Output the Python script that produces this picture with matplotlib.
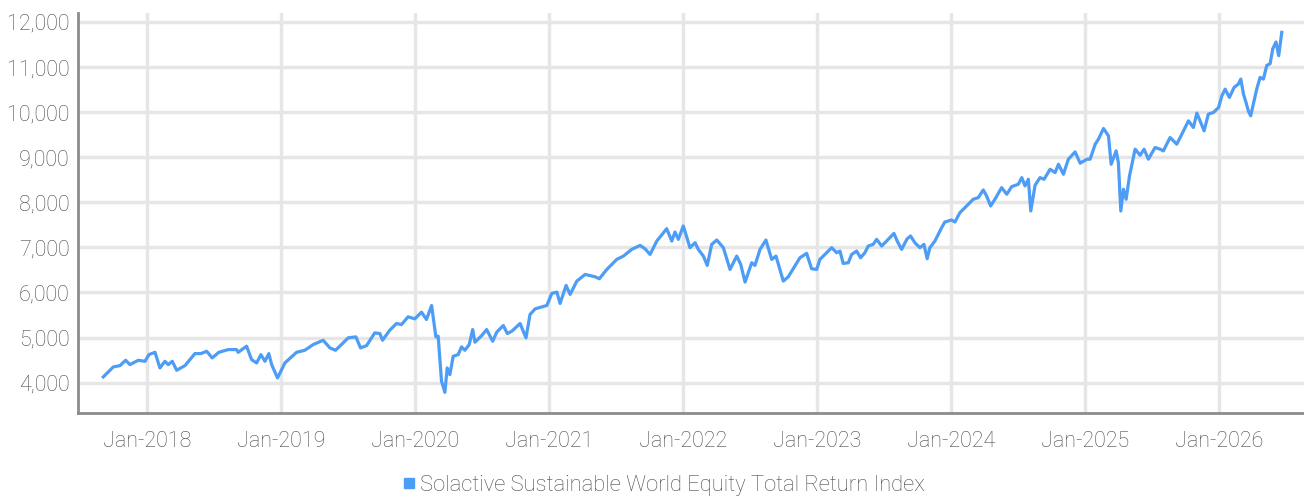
import numpy as np
import pandas as pd
import matplotlib
matplotlib.use("Agg")
import matplotlib.pyplot as plt
import matplotlib.dates as mdates
from matplotlib.lines import Line2D

# -------------------------------------------------------------------------
# DATA  (decimal year -> index level)
# -------------------------------------------------------------------------
years = [
    2017.674, 2017.749, 2017.799, 2017.841, 2017.873, 2017.935, 2017.985, 2018.015,
    2018.060, 2018.097, 2018.134, 2018.159, 2018.189, 2018.222, 2018.284, 2018.358,
    2018.403, 2018.446, 2018.487, 2018.537, 2018.607, 2018.669, 2018.681, 2018.744,
    2018.781, 2018.819, 2018.851, 2018.881, 2018.910, 2018.931, 2018.975, 2019.030,
    2019.117, 2019.179, 2019.241, 2019.316, 2019.366, 2019.408, 2019.465, 2019.502,
    2019.560, 2019.595, 2019.640, 2019.701, 2019.739, 2019.759, 2019.813, 2019.863,
    2019.901, 2019.950, 2020.000, 2020.050, 2020.087, 2020.125, 2020.157, 2020.174,
    2020.199, 2020.224, 2020.241, 2020.261, 2020.286, 2020.323, 2020.348, 2020.373,
    2020.405, 2020.431, 2020.448, 2020.498, 2020.535, 2020.580, 2020.610, 2020.659,
    2020.689, 2020.722, 2020.784, 2020.828, 2020.858, 2020.896, 2020.983, 2021.020,
    2021.058, 2021.082, 2021.127, 2021.157, 2021.207, 2021.269, 2021.343, 2021.375,
    2021.431, 2021.505, 2021.555, 2021.617, 2021.679, 2021.716, 2021.754, 2021.804,
    2021.878, 2021.916, 2021.940, 2021.965, 2022.002, 2022.052, 2022.090, 2022.114,
    2022.152, 2022.181, 2022.214, 2022.252, 2022.301, 2022.351, 2022.401, 2022.431,
    2022.463, 2022.513, 2022.537, 2022.575, 2022.619, 2022.662, 2022.694, 2022.749,
    2022.786, 2022.823, 2022.873, 2022.923, 2022.960, 2022.998,
    2023.022, 2023.060, 2023.110, 2023.147, 2023.172, 2023.196, 2023.234, 2023.259,
    2023.296, 2023.326, 2023.358, 2023.383, 2023.420, 2023.446, 2023.483, 2023.520,
    2023.575, 2023.599, 2023.632, 2023.674, 2023.699, 2023.731, 2023.769, 2023.799,
    2023.823, 2023.843, 2023.881, 2023.918,
    2023.931, 2023.955, 2024.005, 2024.030, 2024.067,
    2024.117, 2024.166, 2024.204, 2024.241, 2024.266, 2024.296, 2024.328, 2024.378,
    2024.416, 2024.453, 2024.502, 2024.528, 2024.552, 2024.577, 2024.595, 2024.627,
    2024.664, 2024.694, 2024.739, 2024.776, 2024.801, 2024.838, 2024.875, 2024.925,
    2024.963, 2025.013, 2025.037, 2025.075, 2025.099, 2025.137, 2025.174, 2025.194,
    2025.231, 2025.248, 2025.266, 2025.286, 2025.306, 2025.331, 2025.373, 2025.410,
    2025.440, 2025.472, 2025.522, 2025.560, 2025.584, 2025.634, 2025.684, 2025.722,
    2025.771, 2025.808, 2025.834, 2025.858, 2025.888, 2025.920, 2025.958, 2025.996,
    2026.021, 2026.045, 2026.077, 2026.112, 2026.144, 2026.162, 2026.182, 2026.201,
    2026.218, 2026.236, 2026.256, 2026.281, 2026.306, 2026.331, 2026.356, 2026.381,
    2026.401, 2026.425, 2026.445, 2026.468,
]
index_level = [
    4127, 4349, 4378, 4496, 4400, 4496, 4473, 4622,
    4673, 4326, 4473, 4400, 4473, 4274, 4378, 4644,
    4644, 4696, 4548, 4673, 4733, 4733, 4673, 4807,
    4511, 4437, 4622, 4473, 4644, 4400, 4104, 4437,
    4673, 4718, 4844, 4940, 4770, 4718, 4882, 4993,
    5015, 4770, 4822, 5104, 5089, 4940, 5163, 5311,
    5289, 5460, 5415, 5563, 5400, 5711, 5015, 5030,
    4030, 3785, 4326, 4178, 4585, 4622, 4793, 4718,
    4844, 5178, 4896, 5044, 5178, 4918, 5119, 5267,
    5089, 5140, 5311, 4993, 5511, 5637, 5711, 5978,
    6007, 5756, 6156, 5956, 6252, 6400, 6348, 6304,
    6511, 6733, 6807, 6956, 7044, 6970, 6844, 7140,
    7415, 7140, 7341, 7178, 7474, 6993, 7104, 6956,
    6807, 6600, 7067, 7163, 6993, 6511, 6807, 6622,
    6230, 6659, 6600, 6956, 7163, 6733, 6807, 6252,
    6348, 6526, 6770, 6867, 6526, 6511,
    6733, 6844, 6993, 6882, 6918, 6644, 6659, 6844,
    6918, 6770, 6882, 7030, 7067, 7178, 7030, 7141,
    7311, 7141, 6956, 7193, 7252, 7104, 6993, 7067,
    6748, 6993, 7141, 7363,
    7437, 7563, 7607, 7563, 7770,
    7918, 8067, 8104, 8274, 8141, 7918, 8067, 8326,
    8178, 8348, 8400, 8548, 8363, 8511, 7807, 8378,
    8548, 8511, 8733, 8659, 8844, 8622, 8956, 9118,
    8867, 8956, 8956, 9289, 9400, 9637, 9474, 8844,
    9141, 8882, 7807, 8289, 8067, 8585, 9178, 9044,
    9178, 8956, 9215, 9178, 9141, 9437, 9289, 9511,
    9807, 9659, 9978, 9807, 9585, 9956, 9993, 10104,
    10363, 10511, 10326, 10548, 10622, 10733, 10400, 10215,
    10030, 9918, 10178, 10511, 10770, 10733, 11037, 11074,
    11407, 11556, 11252, 11770,
]
series_name = "Solactive Sustainable World Equity Total Return Index"
y_ticks = [4000, 5000, 6000, 7000, 8000, 9000, 10000, 11000, 12000]
tick_years = list(range(2018, 2027))


def decimal_year_to_date(y):
    yr = int(np.floor(y))
    start = pd.Timestamp(year=yr, month=1, day=1)
    end = pd.Timestamp(year=yr + 1, month=1, day=1)
    return start + (end - start) * (y - yr)


dates = [decimal_year_to_date(y) for y in years]

# -------------------------------------------------------------------------
# PLOT
# -------------------------------------------------------------------------
plt.rcParams['font.family'] = ['Roboto', 'DejaVu Sans']
plt.rcParams['font.weight'] = 'light'

line_col = '#4d9cf5'
grid_col = '#e6e6e6'
text_col = '#4a4a4a'

fig = plt.figure(figsize=(13.04, 4.98), dpi=100)
ax = fig.add_axes([0.0598, 0.171, 0.9402, 0.803])

ax.plot(dates, index_level, color=line_col, lw=2.3, solid_joinstyle='round')

ax.set_ylim(3330, 12200)
ax.set_xlim(decimal_year_to_date(2017.485), decimal_year_to_date(2026.634))

ax.set_yticks(y_ticks)
ax.set_yticklabels([f"{v:,}" for v in y_ticks])
ax.set_xticks([pd.Timestamp(year=y, month=1, day=1) for y in tick_years])
ax.xaxis.set_major_formatter(mdates.DateFormatter('%b-%Y'))

ax.grid(True, color=grid_col, lw=2.5)
ax.set_axisbelow(True)
ax.tick_params(axis='both', length=0, labelsize=15.5, colors=text_col)
ax.tick_params(axis='y', pad=6)
ax.tick_params(axis='x', pad=13)

for s in ['top', 'right']:
    ax.spines[s].set_visible(False)
for s in ['left', 'bottom']:
    ax.spines[s].set_color('#8c8c8c')
    ax.spines[s].set_linewidth(2)

handle = Line2D([], [], marker='s', ls='none', color=line_col, markersize=7.5)
fig.legend([handle], [series_name], loc='center', bbox_to_anchor=(0.508, 0.026),
           frameon=False, fontsize=15.8, handletextpad=0.1, handlelength=0.8,
           labelcolor=text_col, borderpad=0)

fig.savefig('out.png', dpi=100)
